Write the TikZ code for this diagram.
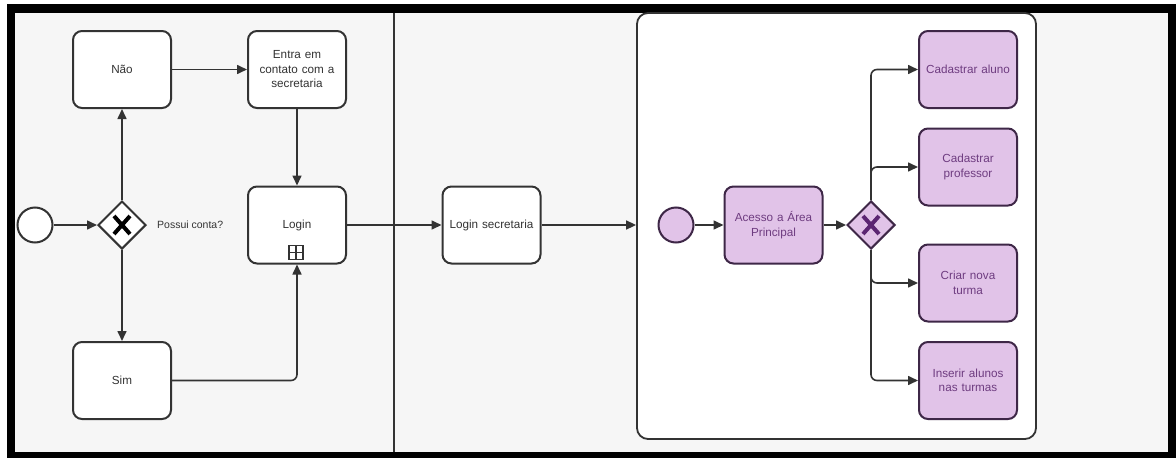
\documentclass[tikz,border=0pt]{standalone}
\usepackage{fontspec}
\setmainfont{Liberation Sans}
\usetikzlibrary{arrows.meta,shapes.geometric,positioning}

\definecolor{lanegray}{HTML}{F6F6F6}
\definecolor{edgegray}{HTML}{333333}
\definecolor{lilac}{HTML}{E1C3E8}
\definecolor{lilacline}{HTML}{3E2747}
\definecolor{lilactext}{HTML}{6E3C80}
\definecolor{xpurple}{HTML}{5B2572}

\tikzset{
  task/.style={draw=edgegray, line width=2pt, fill=white, rounded corners=9pt,
    minimum width=98pt, minimum height=77pt, text width=88pt, align=center,
    text=edgegray, font=\fontsize{11.7}{14.5}\selectfont},
  purpletask/.style={task, draw=lilacline, fill=lilac, text=lilactext},
  gateway/.style={diamond, draw=edgegray, line width=2pt, fill=white,
    minimum size=48pt, inner sep=0pt},
  purplegateway/.style={gateway, draw=lilacline, fill=lilac},
  gatex/.style={path picture={
    \draw[#1, line width=4pt]
      ([shift={(-8pt,-9pt)}]path picture bounding box.center) --
      ([shift={(8pt,9pt)}]path picture bounding box.center)
      ([shift={(-8pt,9pt)}]path picture bounding box.center) --
      ([shift={(8pt,-9pt)}]path picture bounding box.center);}},
  startevent/.style={circle, draw=edgegray, line width=2pt, fill=white,
    minimum size=35pt, inner sep=0pt},
  purplestart/.style={startevent, draw=lilacline, fill=lilac},
  submarker/.style={draw=edgegray, line width=1.3pt, minimum size=14pt,
    inner sep=0pt, path picture={
    \draw[edgegray, line width=1.3pt]
      (path picture bounding box.north) -- (path picture bounding box.south)
      (path picture bounding box.west) -- (path picture bounding box.east);}},
  flow/.style={draw=edgegray, line width=1.6pt, rounded corners=6pt,
    -{Triangle[length=10pt,width=9pt]}},
  gatelabel/.style={text=edgegray, font=\fontsize{10.5}{12}\selectfont,
    inner sep=1pt},
}

\begin{document}
\begin{tikzpicture}[x=1pt, y=-1pt]
  \useasboundingbox (0,0) rectangle (1176,458);

  % pool frame
  \fill[black] (7,4) rectangle (1176,458);
  \fill[lanegray] (15,13) rectangle (1168,452);
  \draw[edgegray, line width=1.6pt] (394,13) -- (394,452);

  % sub process
  \node[draw=edgegray, line width=1.8pt, fill=white, rounded corners=11pt,
    minimum width=399pt, minimum height=426pt] (sub) at (836.5,226) {};

  % left lane
  \node[startevent] (start) at (35,225) {};
  \node[gateway, gatex=black] (conta) at (122,225) {};
  \node[gatelabel, right=9pt of conta] (contalbl) {Possui conta?};
  \node[task] (nao) at (122,69.5) {Não};
  \node[task] (sim) at (122,380.5) {Sim};
  \node[task] (contato) at (297,69.5) {Entra em\\contato com a\\secretaria};
  \node[task] (login) at (297,225) {Login};
  \node[submarker] (loginmark) at (296,252.5) {};

  % middle lane
  \node[task] (logsec) at (491.5,225) {Login secretaria};

  % sub process contents
  \node[purplestart] (pstart) at (676,225) {};
  \node[purpletask] (acesso) at (773.5,225) {Acesso a Área\\Principal};
  \node[purplegateway, gatex=xpurple] (escolha) at (871,225) {};
  \node[purpletask] (aluno) at (968,69.5) {Cadastrar aluno};
  \node[purpletask] (prof) at (968,167) {Cadastrar\\professor};
  \node[purpletask] (turma) at (968,283) {Criar nova\\turma};
  \node[purpletask] (inserir) at (968,380.5) {Inserir alunos\\nas turmas};

  % flows
  \draw[flow] (start) -- (conta);
  \draw[flow] (conta) -- (nao);
  \draw[flow] (conta) -- (sim);
  \draw[flow] (nao) -- (contato);
  \draw[flow] (contato) -- (login);
  \draw[flow] (sim.east) -| (login.south);
  \draw[flow] (login) -- (logsec);
  \draw[flow] (logsec) -- (sub.west |- logsec.east);

  \draw[flow] (pstart) -- (acesso);
  \draw[flow] (acesso) -- (escolha);
  \draw[flow] (escolha.north) |- (aluno.west);
  \draw[flow] (escolha.north) |- (prof.west);
  \draw[flow] (escolha.south) |- (turma.west);
  \draw[flow] (escolha.south) |- (inserir.west);
\end{tikzpicture}
\end{document}
